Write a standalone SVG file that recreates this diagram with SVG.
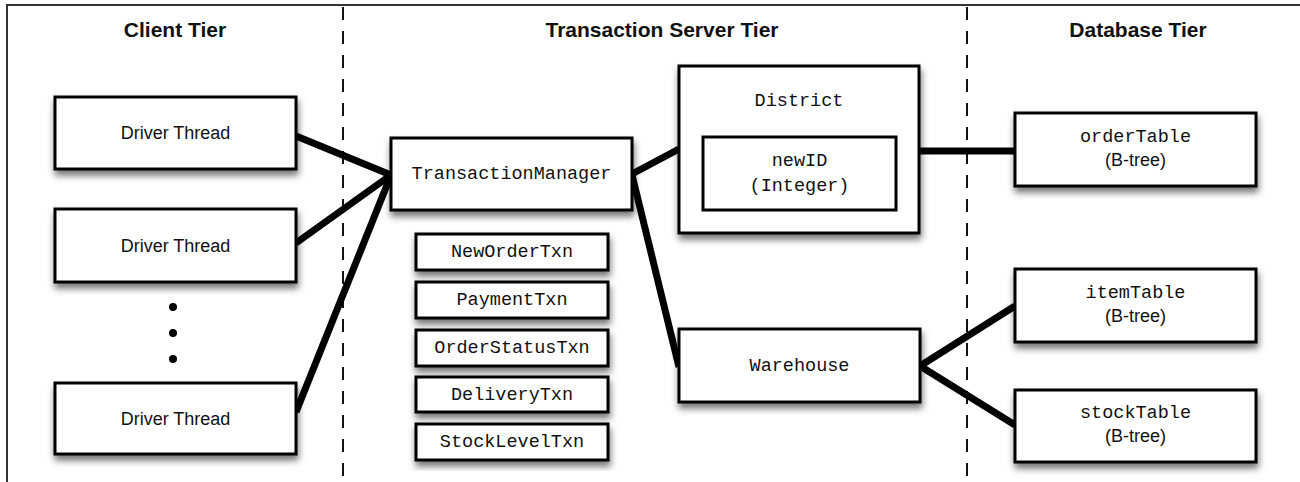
<svg xmlns="http://www.w3.org/2000/svg" width="1300" height="482" viewBox="0 0 1300 482">
  <defs>
    <filter id="shadow" x="-10%" y="-20%" width="125%" height="150%">
      <feDropShadow dx="1" dy="5" stdDeviation="3.5" flood-color="#000" flood-opacity="0.55"/>
    </filter>
    <style>
      .frame { fill: none; stroke: #333; stroke-width: 2; }
      .divider { stroke: #111; stroke-width: 2; stroke-dasharray: 13 11; }
      .tier { font-family: "Liberation Sans", Arial, sans-serif; font-weight: bold; font-size: 21px; fill: #111; text-anchor: middle; }
      .box { fill: #fff; stroke: #000; stroke-width: 3; filter: url(#shadow); }
      .inner { fill: #fff; stroke: #000; stroke-width: 3; }
      .sans { font-family: "Liberation Sans", Arial, sans-serif; font-size: 18px; fill: #111; text-anchor: middle; }
      .mono { font-family: "Liberation Mono", "Courier New", monospace; font-size: 18.5px; fill: #111; text-anchor: middle; }
      .link { stroke: #000; stroke-width: 7; fill: none; }
    </style>
  </defs>

  <rect width="1300" height="482" fill="#fff"/>

  <!-- outer frame and tier dividers -->
  <rect class="frame" x="7" y="5" width="1310" height="500"/>
  <line class="divider" x1="343" y1="7" x2="343" y2="482"/>
  <line class="divider" x1="967" y1="7" x2="967" y2="482"/>

  <text class="tier" x="175" y="37">Client Tier</text>
  <text class="tier" x="662" y="37">Transaction Server Tier</text>
  <text class="tier" x="1138" y="37">Database Tier</text>

  <!-- connectors -->
  <g id="connectors">
    <line class="link" x1="296" y1="136" x2="391" y2="175"/>
    <line class="link" x1="296" y1="243" x2="391" y2="175"/>
    <line class="link" x1="296" y1="412" x2="391" y2="175"/>
    <line class="link" x1="632" y1="174" x2="679" y2="149"/>
    <line class="link" x1="632" y1="175" x2="679" y2="367"/>
    <line class="link" x1="919" y1="151" x2="1015" y2="151"/>
    <line class="link" x1="920" y1="366" x2="1015" y2="306"/>
    <line class="link" x1="920" y1="366" x2="1015" y2="425"/>
  </g>

  <!-- client tier -->
  <g id="driver1">
    <rect class="box" x="55" y="97" width="241" height="72"/>
    <text class="sans" x="175.5" y="139">Driver Thread</text>
  </g>
  <g id="driver2">
    <rect class="box" x="55" y="209" width="241" height="73"/>
    <text class="sans" x="175.5" y="251.5">Driver Thread</text>
  </g>
  <g id="ellipsis">
    <circle cx="173" cy="307" r="4" fill="#000"/>
    <circle cx="173" cy="333" r="4" fill="#000"/>
    <circle cx="173" cy="359" r="4" fill="#000"/>
  </g>
  <g id="driver3">
    <rect class="box" x="55" y="383" width="241" height="71"/>
    <text class="sans" x="175.5" y="424.5">Driver Thread</text>
  </g>

  <!-- transaction server tier -->
  <g id="transactionManager">
    <rect class="box" x="391" y="138" width="241" height="72"/>
    <text class="mono" x="511.5" y="179">TransactionManager</text>
  </g>
  <g id="newOrderTxn">
    <rect class="box" x="416" y="234" width="192" height="36"/>
    <text class="mono" x="512" y="257">NewOrderTxn</text>
  </g>
  <g id="paymentTxn">
    <rect class="box" x="416" y="282" width="192" height="36"/>
    <text class="mono" x="512" y="305">PaymentTxn</text>
  </g>
  <g id="orderStatusTxn">
    <rect class="box" x="416" y="330" width="192" height="36"/>
    <text class="mono" x="512" y="353">OrderStatusTxn</text>
  </g>
  <g id="deliveryTxn">
    <rect class="box" x="416" y="377" width="192" height="35"/>
    <text class="mono" x="512" y="399.5">DeliveryTxn</text>
  </g>
  <g id="stockLevelTxn">
    <rect class="box" x="416" y="424" width="192" height="36"/>
    <text class="mono" x="512" y="447">StockLevelTxn</text>
  </g>
  <g id="district">
    <rect class="box" x="679" y="66" width="240" height="167"/>
    <text class="mono" x="799" y="106">District</text>
    <rect class="inner" x="703" y="137" width="193" height="73"/>
    <text class="mono" x="799.5" y="166">newID</text>
    <text class="mono" x="799.5" y="191">(Integer)</text>
  </g>
  <g id="warehouse">
    <rect class="box" x="679" y="329" width="241" height="73"/>
    <text class="mono" x="799.5" y="370.5">Warehouse</text>
  </g>

  <!-- database tier -->
  <g id="orderTable">
    <rect class="box" x="1015" y="113" width="241" height="73"/>
    <text class="mono" x="1135.5" y="142">orderTable</text>
    <text class="sans" x="1135.5" y="166">(B-tree)</text>
  </g>
  <g id="itemTable">
    <rect class="box" x="1015" y="269" width="241" height="73"/>
    <text class="mono" x="1135.5" y="298">itemTable</text>
    <text class="sans" x="1135.5" y="322">(B-tree)</text>
  </g>
  <g id="stockTable">
    <rect class="box" x="1015" y="390" width="241" height="72"/>
    <text class="mono" x="1135.5" y="418">stockTable</text>
    <text class="sans" x="1135.5" y="442">(B-tree)</text>
  </g>
</svg>
